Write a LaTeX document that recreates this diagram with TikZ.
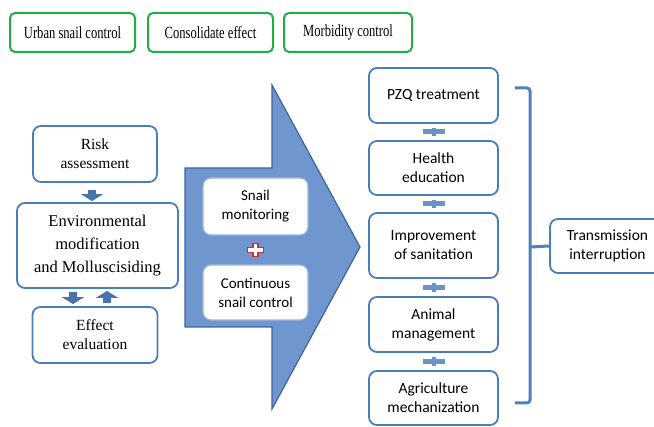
\documentclass[tikz,border=0pt]{standalone}
\usepackage{fontspec}
\setmainfont{Liberation Serif}
\newfontfamily\calfont{Carlito}
\newfontfamily\hdfont[FakeStretch=0.74]{Liberation Serif}
\usetikzlibrary{arrows.meta}
\definecolor{gbord}{RGB}{34,172,76}
\definecolor{bbord}{RGB}{74,126,187}
\definecolor{afill}{RGB}{112,150,208}
\definecolor{aline}{RGB}{62,100,160}
\definecolor{pblue}{RGB}{79,129,189}
\definecolor{pred}{RGB}{200,50,50}
\tikzset{
  greenbox/.style={draw=gbord,line width=2pt,rounded corners=5pt,fill=white,inner sep=0pt,align=center,font=\hdfont\fontsize{17}{19}\selectfont},
  serbox/.style={draw=bbord,line width=1.8pt,rounded corners=8pt,fill=white,inner sep=0pt,align=center,font=\fontsize{15.5}{19}\selectfont},
  sanbox/.style={draw=bbord,line width=1.8pt,rounded corners=8pt,fill=white,inner sep=0pt,align=center,font=\calfont\fontsize{15.5}{19}\selectfont},
  inbox/.style={draw=afill!70!white,line width=1.2pt,rounded corners=8pt,fill=white,inner sep=0pt,align=center,font=\calfont\fontsize{15}{19}\selectfont},
  blockarrow/.style={line width=8pt,color=pblue!90!black,-{Triangle[width=22pt,length=7pt]}},
  plusbar/.style={line width=4pt,color=pblue!85!white},
  brk/.style={line width=3pt,color=pblue,rounded corners=3pt}
}
\begin{document}
\begin{tikzpicture}[x=1pt,y=-1pt]
\useasboundingbox (0,0) rectangle (654,427);
\clip (0,0) rectangle (654,427);
% top headers
\node[greenbox,minimum width=125pt,minimum height=39pt] (h1) at (72.5,32.5) {Urban snail control};
\node[greenbox,minimum width=125pt,minimum height=39pt] (h2) at (210.5,32.5) {Consolidate effect};
\node[greenbox,minimum width=128pt,minimum height=39pt] (h3) at (348,32.5) {Morbidity control};
% left column
\node[serbox,minimum width=124pt,minimum height=56pt] (risk) at (95,154) {Risk\\assessment};
\node[serbox,minimum width=161pt,minimum height=85pt,font=\fontsize{16.5}{23}\selectfont] (env) at (97.5,245.5) {Environmental\\modification\\and Molluscisiding};
\node[serbox,minimum width=125pt,minimum height=56pt] (eff) at (95,335) {Effect\\evaluation};
\coordinate (rA) at ([xshift=-3pt]risk.south);
\draw[blockarrow,shorten <=7pt,shorten >=1pt] (rA) -- (rA |- env.north);
\coordinate (dA) at ([xshift=-24.5pt]env.south);
\coordinate (uA) at ([xshift=9.5pt]env.south);
\draw[blockarrow,shorten <=3pt,shorten >=2pt] (dA) -- (dA |- eff.north);
\draw[blockarrow,shorten <=3pt,shorten >=2pt] (uA |- eff.north) -- (uA);
% big arrow
\draw[fill=afill,draw=aline,line width=1.2pt,line join=miter]
  (185,168) -- (272,168) -- (272,85) -- (360,247) -- (272,409) -- (272,327) -- (185,327) -- cycle;
\node[inbox,minimum width=105pt,minimum height=57pt] (mon) at (255.5,206.5) {Snail\\monitoring};
\node[inbox,minimum width=105pt,minimum height=55pt] (cont) at (255.5,292.5) {Continuous\\snail control};
\path (mon.south) -- (cont.north) coordinate[pos=0.5] (rp);
\draw[fill=white,draw=pred,line width=1.2pt]
  ([shift={(-2.5,-6.5)}]rp) -- ([shift={(2.5,-6.5)}]rp) -- ([shift={(2.5,-2.5)}]rp) -- ([shift={(8,-2.5)}]rp)
  -- ([shift={(8,2.5)}]rp) -- ([shift={(2.5,2.5)}]rp) -- ([shift={(2.5,6.5)}]rp) -- ([shift={(-2.5,6.5)}]rp)
  -- ([shift={(-2.5,2.5)}]rp) -- ([shift={(-8,2.5)}]rp) -- ([shift={(-8,-2.5)}]rp) -- ([shift={(-2.5,-2.5)}]rp) -- cycle;
% right column
\node[sanbox,minimum width=129pt,minimum height=55pt] (pzq) at (433.5,95.5) {PZQ treatment};
\node[sanbox,minimum width=129pt,minimum height=54pt] (hea) at (433.5,168) {Health\\education};
\node[sanbox,minimum width=129pt,minimum height=65pt] (imp) at (433.5,245.5) {Improvement\\of sanitation};
\node[sanbox,minimum width=129pt,minimum height=55pt] (ani) at (433.5,324.5) {Animal\\management};
\node[sanbox,minimum width=129pt,minimum height=54pt] (agr) at (433.5,398) {Agriculture\\mechanization};
\foreach \a/\b in {pzq/hea,hea/imp,imp/ani,ani/agr}{
  \draw[plusbar,line width=4pt,shorten <=4.5pt,shorten >=4.5pt] (\a.south) -- (\b.north) coordinate[pos=0.5] (m);
  \draw[plusbar,line width=5pt] ([xshift=-11pt]m) -- ([xshift=11pt]m);
}
% transmission
\node[sanbox,minimum width=115pt,minimum height=54pt] (tra) at (607.5,246) {Transmission\\interruption};
\draw[brk] (515,88) -- (530,88) -- (530,403) -- (515,403);
\coordinate (bt) at (530,247);
\draw[brk] (bt) -- (tra.west);
\end{tikzpicture}
\end{document}
